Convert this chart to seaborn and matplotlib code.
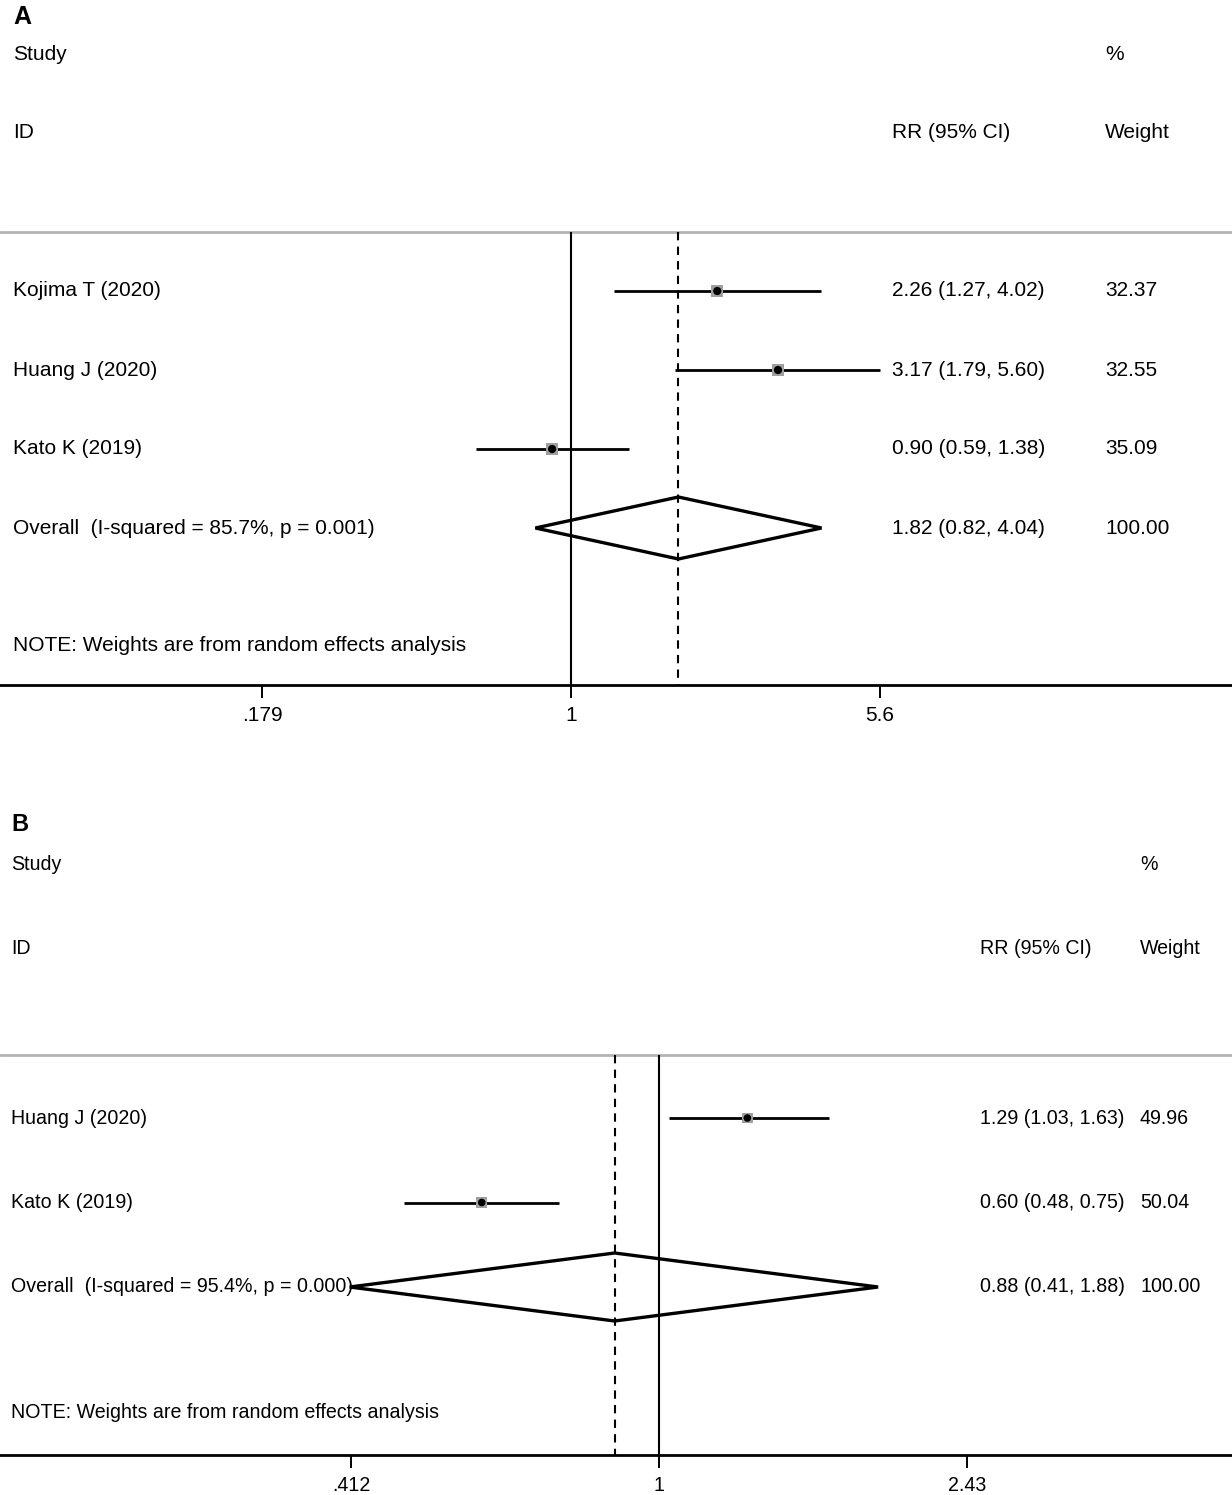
import matplotlib
matplotlib.use("Agg")
import matplotlib.pyplot as plt
from matplotlib import font_manager
from matplotlib.patches import Polygon
import numpy as np
import pandas as pd
import seaborn as sns

# panel A
a_studies = ["Kojima T (2020)", "Huang J (2020)", "Kato K (2019)"]
a_rr = [2.26, 3.17, 0.90]
a_lo = [1.27, 1.79, 0.59]
a_hi = [4.02, 5.60, 1.38]
a_weight = ["32.37", "32.55", "35.09"]
a_overall = (1.82, 0.82, 4.04)
a_overall_label = "Overall  (I-squared = 85.7%, p = 0.001)"
a_ticks = [0.179, 1, 5.6]
a_ticklabels = [".179", "1", "5.6"]

# panel B
b_studies = ["Huang J (2020)", "Kato K (2019)"]
b_rr = [1.29, 0.60]
b_lo = [1.03, 0.48]
b_hi = [1.63, 0.75]
b_weight = ["49.96", "50.04"]
b_overall = (0.88, 0.41, 1.88)
b_overall_label = "Overall  (I-squared = 95.4%, p = 0.000)"
b_ticks = [0.412, 1, 2.43]
b_ticklabels = [".412", "1", "2.43"]

sns.set_theme(style="white")
names = {f.name for f in font_manager.fontManager.ttflist}
if "Liberation Sans Narrow" in names:
    plt.rcParams["font.family"] = ["Liberation Sans Narrow", "Liberation Sans", "DejaVu Sans"]
    BASE = 18.0
else:
    plt.rcParams["font.family"] = ["Liberation Sans", "DejaVu Sans"]
    BASE = 15.0
plt.rcParams["text.color"] = "black"
plt.rcParams["xtick.color"] = "black"


def fmt(rr, lo, hi):
    return f"{rr:.2f} ({lo:.2f}, {hi:.2f})"


def draw_panel(ax, letter, studies, rr, lo, hi, weight, overall, overall_label,
               ticks, ticklabels, xlim, ylim, cols, fs, dia_h, marker_size):
    x_lab, x_rr, x_w = cols
    n = len(studies)
    df = pd.DataFrame({"study": studies, "rr": rr, "lo": lo, "hi": hi,
                       "row": np.arange(n)})
    ov_row = n

    ax.set_xscale("log")
    ax.set_xlim(*xlim)
    ax.set_ylim(*ylim)
    trans = ax.get_yaxis_transform()

    # separator, reference lines
    ax.axhline(-0.75, color="#b4b4b4", lw=2.0, zorder=1)
    ax.vlines(1, -0.75, ylim[0], color="black", lw=1.5, zorder=2)
    ax.vlines(overall[0], -0.75, ylim[0], color="black", lw=1.5,
              linestyles=(0, (4, 3)), zorder=2)

    # CIs and point estimates
    ax.hlines(df["row"], df["lo"], df["hi"], color="black", lw=2.0, zorder=3)
    sns.scatterplot(data=df, x="rr", y="row", marker="s", s=marker_size,
                    color="#a0a0a0", edgecolor="none", ax=ax, zorder=4, legend=False)
    sns.scatterplot(data=df, x="rr", y="row", marker="o", s=marker_size * 0.5,
                    color="black", edgecolor="none", ax=ax, zorder=5, legend=False)

    # overall diamond
    est, olo, ohi = overall
    dia = Polygon([(olo, ov_row), (est, ov_row - dia_h), (ohi, ov_row),
                   (est, ov_row + dia_h)], closed=True, fill=False,
                  edgecolor="black", lw=2.4, zorder=4)
    ax.add_patch(dia)

    # text columns
    ax.text(x_lab, -3.47, letter, transform=trans, fontsize=fs * 1.2,
            fontweight="bold", family=["Liberation Sans", "DejaVu Sans"],
            va="center", ha="left")
    ax.text(x_lab, -3.0, "Study", transform=trans, fontsize=fs, va="center")
    ax.text(x_lab, -2.0, "ID", transform=trans, fontsize=fs, va="center")
    ax.text(x_w, -3.0, "%", transform=trans, fontsize=fs, va="center")
    ax.text(x_rr, -2.0, "RR (95% CI)", transform=trans, fontsize=fs, va="center")
    ax.text(x_w, -2.0, "Weight", transform=trans, fontsize=fs, va="center")
    for i in range(n):
        ax.text(x_lab, i, studies[i], transform=trans, fontsize=fs, va="center")
        ax.text(x_rr, i, fmt(rr[i], lo[i], hi[i]), transform=trans, fontsize=fs, va="center")
        ax.text(x_w, i, weight[i], transform=trans, fontsize=fs, va="center")
    ax.text(x_lab, ov_row, overall_label, transform=trans, fontsize=fs, va="center")
    ax.text(x_rr, ov_row, fmt(*overall), transform=trans, fontsize=fs, va="center")
    ax.text(x_w, ov_row, "100.00", transform=trans, fontsize=fs, va="center")
    ax.text(x_lab, ylim[0] - 0.5, "NOTE: Weights are from random effects analysis",
            transform=trans, fontsize=fs, va="center")

    # axis
    for side in ["top", "left", "right"]:
        ax.spines[side].set_visible(False)
    ax.spines["bottom"].set_linewidth(2.0)
    ax.spines["bottom"].set_color("black")
    ax.set_xticks(ticks)
    ax.set_xticklabels(ticklabels, fontsize=fs)
    ax.xaxis.set_minor_locator(matplotlib.ticker.NullLocator())
    ax.tick_params(axis="x", direction="out", length=9, width=1.4, color="black",
                   pad=6, bottom=True)
    ax.set_yticks([])
    ax.set_xlabel("")
    ax.set_ylabel("")
    ax.patch.set_alpha(0)


W, H = 1232, 1495
fig = plt.figure(figsize=(W / 100, H / 100), dpi=100)

# panel A: rows every 79 px starting at 291 px, axis line at 685 px
a_top, a_bot, a_row0, a_step = 0, 685, 291, 79
axA = fig.add_axes([0, 1 - a_bot / H, 1, (a_bot - a_top) / H])
a_ppl = 179.4
draw_panel(axA, "A", a_studies, a_rr, a_lo, a_hi, a_weight, a_overall, a_overall_label,
           a_ticks, a_ticklabels,
           (np.exp(-571 / a_ppl), np.exp((W - 571) / a_ppl)),
           ((a_bot - a_row0) / a_step, (a_top - a_row0) / a_step),
           (13 / W, 892 / W, 1105 / W), BASE, 31 / a_step, 70)

# panel B: rows every 84.5 px starting at 1118 px, axis line at 1455 px
b_top, b_bot, b_row0, b_step = 810, 1455, 1118, 84.5
axB = fig.add_axes([0, 1 - b_bot / H, 1, (b_bot - b_top) / H])
b_ppl = 347.0
draw_panel(axB, "B", b_studies, b_rr, b_lo, b_hi, b_weight, b_overall, b_overall_label,
           b_ticks, b_ticklabels,
           (np.exp(-659 / b_ppl), np.exp((W - 659) / b_ppl)),
           ((b_bot - b_row0) / b_step, (b_top - b_row0) / b_step),
           (11 / W, 980 / W, 1140 / W), BASE * 0.94, 34 / b_step, 60)

fig.savefig("out.png", dpi=100, facecolor="white")
